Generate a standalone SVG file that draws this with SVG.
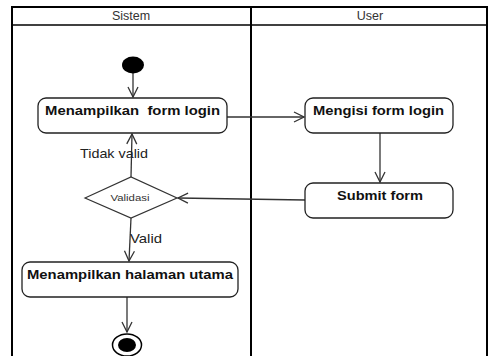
<svg xmlns="http://www.w3.org/2000/svg" width="492" height="356" viewBox="0 0 492 356">
<style>
.lane{fill:none;stroke:#000;stroke-width:2}
.hdr{font-family:"Liberation Sans",Arial,sans-serif;font-size:12.5px;fill:#333;text-anchor:middle}
.box{fill:#fff;stroke:#222;stroke-width:1.3}
.bt{font-family:"Liberation Sans",Arial,sans-serif;font-size:13px;font-weight:bold;fill:#111;white-space:pre}
.lbl{font-family:"Liberation Sans",Arial,sans-serif;font-size:13px;fill:#222}
.edge{fill:none;stroke:#333;stroke-width:1.3}
</style>
<defs>
<marker id="arr" viewBox="0 0 12 12" refX="11" refY="6" markerWidth="12" markerHeight="12" markerUnits="userSpaceOnUse" orient="auto">
<path d="M1,1 L11,6 L1,11" fill="none" stroke="#333" stroke-width="1.3"/>
</marker>
</defs>
<rect width="492" height="356" fill="#fff"/>
<g id="swimlanes">
<path class="lane" d="M12,356 V7 H487 V356"/>
<line x1="251" y1="7" x2="251" y2="356" stroke="#000" stroke-width="2"/>
<line x1="12" y1="25" x2="487" y2="25" stroke="#000" stroke-width="1.5"/>
<text class="hdr" x="131" y="20">Sistem</text>
<text class="hdr" x="370" y="20">User</text>
</g>
<g id="connectors">
<line class="edge" x1="133" y1="73" x2="133" y2="97" marker-end="url(#arr)"/>
<line class="edge" x1="227" y1="117" x2="304" y2="117" marker-end="url(#arr)"/>
<line class="edge" x1="380" y1="133" x2="380" y2="182" marker-end="url(#arr)"/>
<line class="edge" x1="305" y1="200" x2="178" y2="198" marker-end="url(#arr)"/>
<line class="edge" x1="131" y1="177" x2="132" y2="134" marker-end="url(#arr)"/>
<line class="edge" x1="131" y1="218" x2="129" y2="261" marker-end="url(#arr)"/>
<line class="edge" x1="127" y1="297" x2="127" y2="332" marker-end="url(#arr)"/>
<text class="lbl" x="80" y="158" textLength="68" lengthAdjust="spacingAndGlyphs">Tidak valid</text>
<text class="lbl" x="130" y="243" textLength="32" lengthAdjust="spacingAndGlyphs">Valid</text>
</g>
<g id="start">
<ellipse cx="133" cy="65" rx="11" ry="8.5" fill="#000"/>
</g>
<g id="menampilkan-form-login">
<rect class="box" x="38" y="98" width="189" height="35" rx="8"/>
<text class="bt" x="45" y="115" textLength="175" lengthAdjust="spacingAndGlyphs" xml:space="preserve">Menampilkan  form login</text>
</g>
<g id="mengisi-form-login">
<rect class="box" x="305" y="98" width="148" height="35" rx="8"/>
<text class="bt" x="313" y="115" textLength="131" lengthAdjust="spacingAndGlyphs">Mengisi form login</text>
</g>
<g id="submit-form">
<rect class="box" x="305" y="183" width="148" height="35" rx="8"/>
<text class="bt" x="337" y="200" textLength="86" lengthAdjust="spacingAndGlyphs">Submit form</text>
</g>
<g id="validasi">
<polygon points="85,198 131,177 177,198 131,218" fill="#fff" stroke="#333" stroke-width="1.2"/>
<text x="130" y="201" font-family="Liberation Sans,Arial,sans-serif" font-size="9" fill="#333" text-anchor="middle" textLength="39" lengthAdjust="spacingAndGlyphs">Validasi</text>
</g>
<g id="menampilkan-halaman-utama">
<rect class="box" x="22" y="262" width="216" height="35" rx="8"/>
<text class="bt" x="27" y="279" textLength="206" lengthAdjust="spacingAndGlyphs">Menampilkan halaman utama</text>
</g>
<g id="end">
<ellipse cx="127" cy="345" rx="14.5" ry="11" fill="#fff" stroke="#000" stroke-width="1.5"/>
<ellipse cx="127" cy="345" rx="9" ry="7" fill="#000"/>
</g>
</svg>
